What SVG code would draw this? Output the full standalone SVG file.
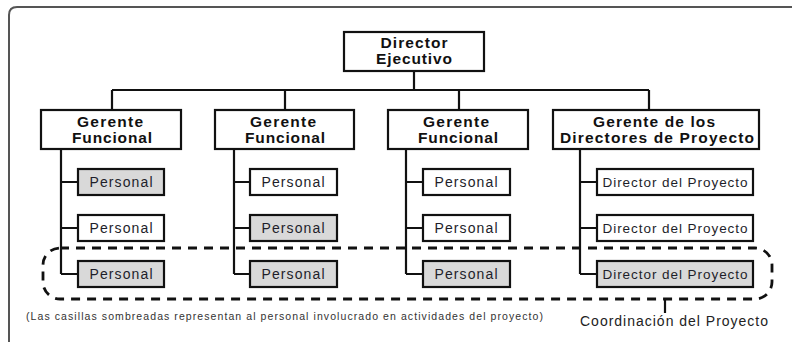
<svg xmlns="http://www.w3.org/2000/svg" width="792" height="342" viewBox="0 0 792 342">
<style>
.box{fill:#fff;stroke:#111;stroke-width:2.2}
.sh{fill:#d9d9d9;stroke:#111;stroke-width:2.2}
.ln{fill:none;stroke:#111;stroke-width:2.2}
.hd{font-family:"Liberation Sans",Arial,sans-serif;font-weight:bold;font-size:15.5px;fill:#111;text-anchor:middle}
.pt{font-family:"Liberation Sans",Arial,sans-serif;font-size:14px;fill:#1e1e2a;text-anchor:middle}
.dp{font-family:"Liberation Sans",Arial,sans-serif;font-size:13.5px;fill:#1e1e2a;text-anchor:middle}
.nt{font-family:"Liberation Sans",Arial,sans-serif;font-size:10.5px;fill:#333}
.cl{font-family:"Liberation Sans",Arial,sans-serif;font-size:14px;fill:#222}
</style>
<rect width="792" height="342" fill="#fff"/>
<path d="M9,342 V15 Q9,7 17,7 H792" fill="none" stroke="#555" stroke-width="2"/>
<g id="connectors">
<path class="ln" d="M414,71 V90 M112,90 H649 M112,90 V110 M285,90 V110 M459,90 V110 M649,90 V110"/>
<path class="ln" d="M61,149 V274 M61,182 H78 M61,228 H78 M61,274 H78"/>
<path class="ln" d="M234,149 V274 M234,182 H250 M234,228 H250 M234,274 H250"/>
<path class="ln" d="M406,149 V274 M406,182 H423 M406,228 H423 M406,274 H423"/>
<path class="ln" d="M580,149 V274 M580,182 H597 M580,228 H597 M580,274 H597"/>
</g>
<g id="director">
<rect class="box" x="344" y="32" width="140" height="39"/>
<text class="hd" x="414" y="48" textLength="67" lengthAdjust="spacing">Director</text>
<text class="hd" x="414" y="64" textLength="76" lengthAdjust="spacing">Ejecutivo</text>
</g>
<g id="gerente1">
<rect class="box" x="41" y="110" width="140" height="39"/>
<text class="hd" x="110" y="127" textLength="66" lengthAdjust="spacing">Gerente</text>
<text class="hd" x="112" y="143" textLength="80" lengthAdjust="spacing">Funcional</text>
</g>
<g id="gerente2">
<rect class="box" x="215" y="110" width="139" height="39"/>
<text class="hd" x="283" y="127" textLength="66" lengthAdjust="spacing">Gerente</text>
<text class="hd" x="285" y="143" textLength="80" lengthAdjust="spacing">Funcional</text>
</g>
<g id="gerente3">
<rect class="box" x="388" y="110" width="140" height="39"/>
<text class="hd" x="456" y="127" textLength="66" lengthAdjust="spacing">Gerente</text>
<text class="hd" x="458" y="143" textLength="80" lengthAdjust="spacing">Funcional</text>
</g>
<g id="gerente4">
<rect class="box" x="553" y="110" width="206" height="39"/>
<text class="hd" x="654" y="127" textLength="122" lengthAdjust="spacing">Gerente de los</text>
<text class="hd" x="657" y="143" textLength="194" lengthAdjust="spacing">Directores de Proyecto</text>
</g>
<g id="p11"><rect class="sh" x="78" y="169" width="86" height="26"/><text class="pt" x="121" y="187" textLength="63" lengthAdjust="spacing">Personal</text></g>
<g id="p12"><rect class="box" x="78" y="215" width="86" height="26"/><text class="pt" x="121" y="233" textLength="63" lengthAdjust="spacing">Personal</text></g>
<g id="p13"><rect class="sh" x="78" y="261" width="86" height="26"/><text class="pt" x="121" y="279" textLength="63" lengthAdjust="spacing">Personal</text></g>
<g id="p21"><rect class="box" x="250" y="169" width="87" height="26"/><text class="pt" x="293" y="187" textLength="63" lengthAdjust="spacing">Personal</text></g>
<g id="p22"><rect class="sh" x="250" y="215" width="87" height="26"/><text class="pt" x="293" y="233" textLength="63" lengthAdjust="spacing">Personal</text></g>
<g id="p23"><rect class="sh" x="250" y="261" width="87" height="26"/><text class="pt" x="293" y="279" textLength="63" lengthAdjust="spacing">Personal</text></g>
<g id="p31"><rect class="box" x="423" y="169" width="87" height="26"/><text class="pt" x="466" y="187" textLength="63" lengthAdjust="spacing">Personal</text></g>
<g id="p32"><rect class="box" x="423" y="215" width="87" height="26"/><text class="pt" x="466" y="233" textLength="63" lengthAdjust="spacing">Personal</text></g>
<g id="p33"><rect class="sh" x="423" y="261" width="87" height="26"/><text class="pt" x="466" y="279" textLength="63" lengthAdjust="spacing">Personal</text></g>
<g id="d1"><rect class="box" x="597" y="169" width="156" height="26"/><text class="dp" x="675" y="186.5" textLength="145" lengthAdjust="spacing">Director del Proyecto</text></g>
<g id="d2"><rect class="box" x="597" y="215" width="156" height="26"/><text class="dp" x="675" y="232.5" textLength="145" lengthAdjust="spacing">Director del Proyecto</text></g>
<g id="d3"><rect class="sh" x="597" y="261" width="156" height="26"/><text class="dp" x="675" y="278.5" textLength="145" lengthAdjust="spacing">Director del Proyecto</text></g>
<g id="coordinacion">
<rect x="43" y="248" width="729" height="51" rx="17" ry="17" fill="none" stroke="#111" stroke-width="2.8" stroke-dasharray="9,7"/>
<path d="M665,299 V313" fill="none" stroke="#111" stroke-width="2.2"/>
<text class="cl" x="580" y="326" textLength="188" lengthAdjust="spacing">Coordinación del Proyecto</text>
</g>
<text class="nt" x="26" y="320" textLength="517" lengthAdjust="spacing">(Las casillas sombreadas representan al personal involucrado en actividades del proyecto)</text>
</svg>
